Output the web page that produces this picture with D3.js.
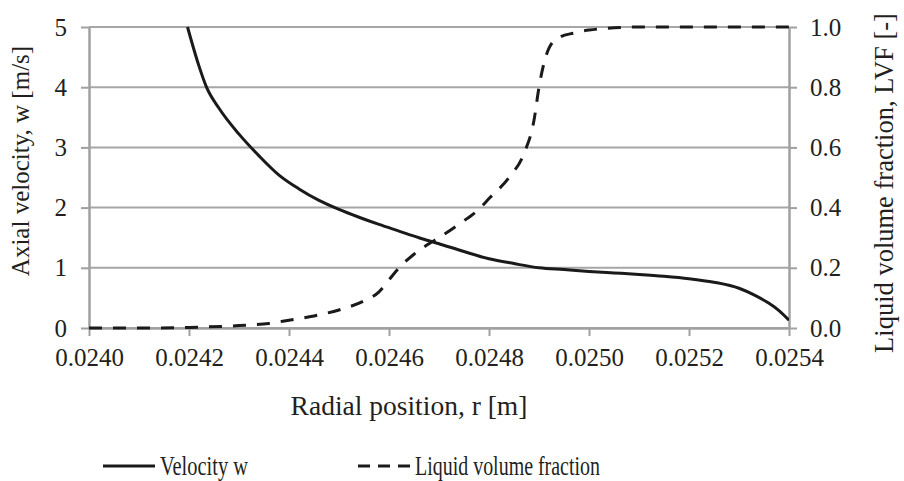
<!DOCTYPE html>
<html>
<head>
<meta charset="utf-8">
<script src="https://cdn.jsdelivr.net/npm/d3@7"></script>
<style>
  body { margin: 0; background: #fff; }
  svg text { font-family: "Liberation Serif", "Times New Roman", "DejaVu Serif", serif; fill: #231f20; }
</style>
</head>
<body>
<div id="chart"></div>
<script>
const width = 904;
const height = 481;

// radial position r [m] and axial velocity w [m/s]
const velR = [0.024197, 0.02422, 0.024235, 0.02426, 0.0243, 0.02434, 0.02438, 0.02442, 0.02446,
  0.0245, 0.02454, 0.02458, 0.02462, 0.02466, 0.0247, 0.02475, 0.0248, 0.02485, 0.0249,
  0.02495, 0.025, 0.02505, 0.0251, 0.02515, 0.0252, 0.02525, 0.0253, 0.02533, 0.02536, 0.02538, 0.0254];
const velW = [5.0, 4.35, 4.0, 3.65, 3.22, 2.86, 2.54, 2.31, 2.12,
  1.97, 1.84, 1.72, 1.61, 1.5, 1.4, 1.27, 1.15, 1.07, 1.0,
  0.97, 0.94, 0.915, 0.89, 0.86, 0.82, 0.76, 0.66, 0.55, 0.41, 0.29, 0.13];

// radial position r [m] and liquid volume fraction LVF [-]
const lvfR = [0.024, 0.0241, 0.0242, 0.0243, 0.02436, 0.0244, 0.02445, 0.0245, 0.02455, 0.02458,
  0.0246, 0.02462, 0.02465, 0.02468, 0.0247, 0.02474, 0.02478, 0.0248, 0.02484, 0.02487,
  0.02489, 0.0249, 0.02491, 0.02492, 0.02494, 0.02497, 0.025, 0.0251, 0.0252, 0.0253, 0.0254];
const lvfV = [0.0, 0.0, 0.002, 0.008, 0.015, 0.026, 0.04, 0.06, 0.09, 0.12,
  0.16, 0.2, 0.245, 0.28, 0.3, 0.345, 0.395, 0.43, 0.5, 0.58,
  0.69, 0.8, 0.88, 0.93, 0.965, 0.98, 0.99, 1.0, 1.0, 1.0, 1.0];

const xTicks = [0.0240, 0.0242, 0.0244, 0.0246, 0.0248, 0.0250, 0.0252, 0.0254];
const leftTicks = [0, 1, 2, 3, 4, 5];
const rightTicks = [0, 0.2, 0.4, 0.6, 0.8, 1.0];

const velocity = velR.map((r, i) => ({ r: r, v: velW[i] }));
const lvf = lvfR.map((r, i) => ({ r: r, v: lvfV[i] }));

const x = d3.scaleLinear().domain([0.024, 0.0254]).range([89, 789]);
const yL = d3.scaleLinear().domain([0, 5]).range([328, 27]);
const yR = d3.scaleLinear().domain([0, 1]).range([328, 27]);

const svg = d3.select("#chart").append("svg")
  .attr("width", width)
  .attr("height", height);

svg.append("rect").attr("width", width).attr("height", height).attr("fill", "#fff");

svg.append("clipPath").attr("id", "plot")
  .append("rect")
  .attr("x", x.range()[0]).attr("y", yL.range()[1] - 2)
  .attr("width", x.range()[1] - x.range()[0])
  .attr("height", yL.range()[0] - yL.range()[1] + 4);

// gridlines
svg.append("g")
  .selectAll("line")
  .data(leftTicks)
  .enter()
  .append("line")
  .attr("x1", x.range()[0])
  .attr("x2", x.range()[1])
  .attr("y1", d => yL(d))
  .attr("y2", d => yL(d))
  .attr("stroke", "#a6a6a6")
  .attr("stroke-width", 2);

const gray = "#a0a0a0";

function styleAxis(g) {
  g.attr("font-family", null);
  g.select(".domain").attr("stroke", gray).attr("stroke-width", 2.5);
  g.selectAll(".tick line").attr("stroke", gray).attr("stroke-width", 2);
  g.selectAll(".tick text")
    .attr("font-size", 25)
    .attr("fill", "#231f20");
}

svg.append("g")
  .attr("transform", `translate(0,${yL(0)})`)
  .call(d3.axisBottom(x).tickValues(xTicks).tickFormat(d3.format(".4f")).tickSize(8).tickSizeOuter(0).tickPadding(12))
  .call(styleAxis);

svg.append("g")
  .attr("transform", `translate(${x.range()[0]},0)`)
  .call(d3.axisLeft(yL).tickValues(leftTicks).tickFormat(d3.format("d")).tickSize(8).tickSizeOuter(0).tickPadding(14))
  .call(styleAxis);

svg.append("g")
  .attr("transform", `translate(${x.range()[1]},0)`)
  .call(d3.axisRight(yR).tickValues(rightTicks).tickFormat(d3.format(".1f")).tickSize(8).tickSizeOuter(0).tickPadding(13))
  .call(styleAxis);

// curves
const lineV = d3.line().x(d => x(d.r)).y(d => yL(d.v)).curve(d3.curveMonotoneX);
const lineL = d3.line().x(d => x(d.r)).y(d => yR(d.v)).curve(d3.curveMonotoneX);

svg.append("path")
  .datum(lvf)
  .attr("clip-path", "url(#plot)")
  .attr("d", lineL)
  .attr("fill", "none")
  .attr("stroke", "#1a1a1a")
  .attr("stroke-width", 3)
  .attr("stroke-dasharray", "13,11");

svg.append("path")
  .datum(velocity)
  .attr("clip-path", "url(#plot)")
  .attr("d", lineV)
  .attr("fill", "none")
  .attr("stroke", "#1a1a1a")
  .attr("stroke-width", 3);

// axis titles
svg.append("text")
  .attr("x", 409).attr("y", 415)
  .attr("text-anchor", "middle")
  .attr("font-size", 27.5)
  .text("Radial position, r [m]");

svg.append("text")
  .attr("transform", "translate(29,161) rotate(-90)")
  .attr("text-anchor", "middle")
  .attr("font-size", 25)
  .text("Axial velocity, w [m/s]");

svg.append("text")
  .attr("transform", "translate(893,183) rotate(-90)")
  .attr("text-anchor", "middle")
  .attr("font-size", 26.5)
  .text("Liquid volume fraction, LVF [-]");

// legend
const legendData = [
  { label: "Velocity w", x: 103, dash: null, len: 88 },
  { label: "Liquid volume fraction", x: 358, dash: "12,8", len: 185 }
];

const legend = svg.append("g").attr("transform", "translate(0,466)");

legend.selectAll("line")
  .data(legendData)
  .enter()
  .append("line")
  .attr("x1", d => d.x)
  .attr("x2", d => d.x + 52)
  .attr("y1", 0).attr("y2", 0)
  .attr("stroke", "#1a1a1a")
  .attr("stroke-width", 3)
  .attr("stroke-dasharray", d => d.dash);

legend.selectAll("text")
  .data(legendData)
  .enter()
  .append("text")
  .attr("x", d => d.x + 57)
  .attr("y", 9)
  .attr("font-size", 27)
  .attr("textLength", d => d.len)
  .attr("lengthAdjust", "spacingAndGlyphs")
  .text(d => d.label);
</script>
</body>
</html>
